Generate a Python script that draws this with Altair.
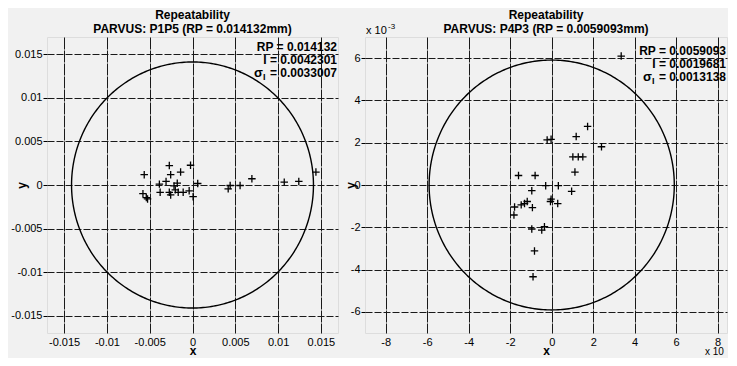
import altair as alt
import numpy as np
import pandas as pd

# ---------------- data ----------------
# Left panel: P1P5, coordinates in mm
left_x = [-0.00564, -0.00271, -0.00023, -0.00255, -0.00139, -0.00309, -0.00387,
          -0.00178, -0.00216, 0.00061, -0.00579, -0.00540, -0.00525, -0.00378,
          -0.00271, -0.00255, -0.00201, -0.00167, -0.00109, -0.00039, 0.00007,
          0.00417, 0.00440, 0.00556, 0.00694, 0.01072, 0.01242, 0.01442]
left_y = [0.00119, 0.00223, 0.00227, 0.00119, 0.00149, 0.00041, 0.00010,
          0.00021, -0.00010, 0.00017, -0.00099, -0.00145, -0.00160, -0.00084,
          -0.00084, -0.00114, -0.00056, -0.00084, -0.00084, -0.00067, -0.00134,
          -0.00044, -0.00006, -0.00006, 0.00072, 0.00033, 0.00041, 0.00149]

# Right panel: P4P3, coordinates in units of 1e-3 mm
right_x = [3.35, 1.73, 1.18, 2.40, -0.22, -0.03, 1.02, 1.28, 1.50, 1.12, -1.60,
           -0.80, -0.29, 0.32, 0.96, -0.96, -0.03, -0.06, 0.29, -1.18, -1.47,
           -1.31, -1.79, -0.93, -1.82, -0.96, -0.35, -0.48, -0.83, -0.90]
right_y = [6.10, 2.77, 2.29, 1.81, 2.13, 2.16, 1.33, 1.33, 1.33, 0.61, 0.45,
           0.45, -0.03, -0.03, -0.30, -0.27, -0.67, -0.78, -0.88, -0.78, -0.94,
           -0.88, -1.04, -1.07, -1.42, -2.08, -1.97, -2.13, -3.12, -4.34]

left_rp = 0.014132
right_rp = 5.9093  # 0.0059093 mm in units of 1e-3

left_title = ["Repeatability", "PARVUS: P1P5 (RP = 0.014132mm)"]
right_title = ["Repeatability", "PARVUS: P4P3 (RP = 0.0059093mm)"]

left_stats = ["RP = 0.014132", "I = 0.0042301", "= 0.0033007"]
right_stats = ["RP = 0.0059093", "I = 0.0019681", "= 0.0013138"]

left_ticks = [-0.015, -0.01, -0.005, 0, 0.005, 0.01, 0.015]
right_xticks = [-8, -6, -4, -2, 0, 2, 4, 6, 8]
right_yticks = [-6, -4, -2, 0, 2, 4, 6]

FONT = "Liberation Sans"
PLUS = "M-1,0L1,0M0,-1L0,1"


def axis(values, orient, title, dash, **kw):
    return alt.Axis(
        values=values, labelExpr="'' + datum.value", grid=True,
        gridDash=dash, gridColor="#1a1a1a", gridOpacity=1, gridWidth=1,
        domain=False, labelFont=FONT, labelFontSize=11, labelColor="black",
        title=title, titleFont=FONT, titleFontSize=12, titleFontWeight="bold",
        titleColor="black", orient=orient, **kw)


def panel(px, py, rp, xdom, ydom, xticks, yticks, title, stats, stat_ys,
          width, height, ytitle_x, stat_right, sigma_right, title_offset,
          extra=()):
    xs = alt.Scale(domain=xdom, nice=False, zero=False)
    ys = alt.Scale(domain=ydom, nice=False, zero=False)
    xax = axis(xticks, "bottom", "x", [12, 1], ticks=False, labelPadding=3,
               titleY=21, titleBaseline="alphabetic")
    yax = axis(yticks, "left", "y", [7, 2], ticks=True, tickSize=4,
               tickColor="black", labelPadding=1, titleX=ytitle_x, titleY=148,
               titleBaseline="middle", titleAlign="center", titleAngle=270)

    th = np.linspace(0, 2 * np.pi, 361)
    circ = pd.DataFrame({"x": rp * np.cos(th), "y": rp * np.sin(th),
                         "o": np.arange(len(th))})
    pts = pd.DataFrame({"x": px, "y": py})

    circle = alt.Chart(circ).mark_line(color="black", strokeWidth=1.4).encode(
        x=alt.X("x:Q", scale=xs, axis=xax),
        y=alt.Y("y:Q", scale=ys, axis=yax),
        order="o:Q")
    points = alt.Chart(pts).mark_point(
        shape=PLUS, filled=False, size=56, strokeWidth=1.3, color="black",
        opacity=1).encode(x=alt.X("x:Q", scale=xs), y=alt.Y("y:Q", scale=ys))

    one = pd.DataFrame({"k": [0]})
    texts = []
    for i, s in enumerate(stats):
        texts.append(alt.Chart(one).mark_text(
            font=FONT, fontSize=12, fontWeight="bold", align="right",
            baseline="middle", color="black").encode(
            x=alt.value(stat_right), y=alt.value(stat_ys[i]), text=alt.value(s)))
    texts.append(alt.Chart(one).mark_text(
        font=FONT, fontSize=13, fontWeight="bold", align="right",
        baseline="middle", color="black").encode(
        x=alt.value(sigma_right), y=alt.value(stat_ys[2]), text=alt.value("σ")))
    texts.append(alt.Chart(one).mark_text(
        font=FONT, fontSize=9, fontWeight="bold", align="left",
        baseline="middle", color="black").encode(
        x=alt.value(sigma_right), y=alt.value(stat_ys[2] + 4),
        text=alt.value("I")))

    return alt.layer(circle, points, *texts, *extra).properties(
        width=width, height=height,
        title=alt.TitleParams(text=title, font=FONT, fontSize=12,
                              fontWeight="bold", color="black", anchor="middle",
                              offset=title_offset, lineHeight=14.5))


W_L, W_R, H = 291, 362, 296

one = pd.DataFrame({"k": [0]})
exp_top = alt.Chart(one).mark_text(font=FONT, fontSize=11, align="left",
                                   baseline="middle", color="black").encode(
    x=alt.value(1), y=alt.value(-6), text=alt.value("x 10"))
exp_top_sup = alt.Chart(one).mark_text(font=FONT, fontSize=8, align="left",
                                       baseline="middle", color="black").encode(
    x=alt.value(23), y=alt.value(-10), text=alt.value("-3"))
exp_bot = alt.Chart(one).mark_text(font=FONT, fontSize=10, align="left",
                                   baseline="middle", color="black").encode(
    x=alt.value(340), y=alt.value(315), text=alt.value("x 10"))

left = panel(left_x, left_y, left_rp, [-0.017, 0.017], [-0.017, 0.017],
             left_ticks, left_ticks, left_title, left_stats, [10, 23, 36],
             W_L, H, -26, 290, 216, 1)

right = panel(right_x, right_y, right_rp, [-9, 8.45], [-7, 7],
              right_xticks, right_yticks, right_title, right_stats, [14, 27, 40],
              W_R, H, -15, 361, 287, -13,
              extra=(exp_top, exp_top_sup, exp_bot))

chart = alt.hconcat(left, right, spacing=27, bounds="flush").properties(
    padding={"left": 2, "top": 0, "right": 0, "bottom": 0},
    background="#f1f1f1",
).configure_view(stroke="black", strokeWidth=1.8).configure(font=FONT)

chart.save("out.html", embed_options={"renderer": "svg", "actions": False})
